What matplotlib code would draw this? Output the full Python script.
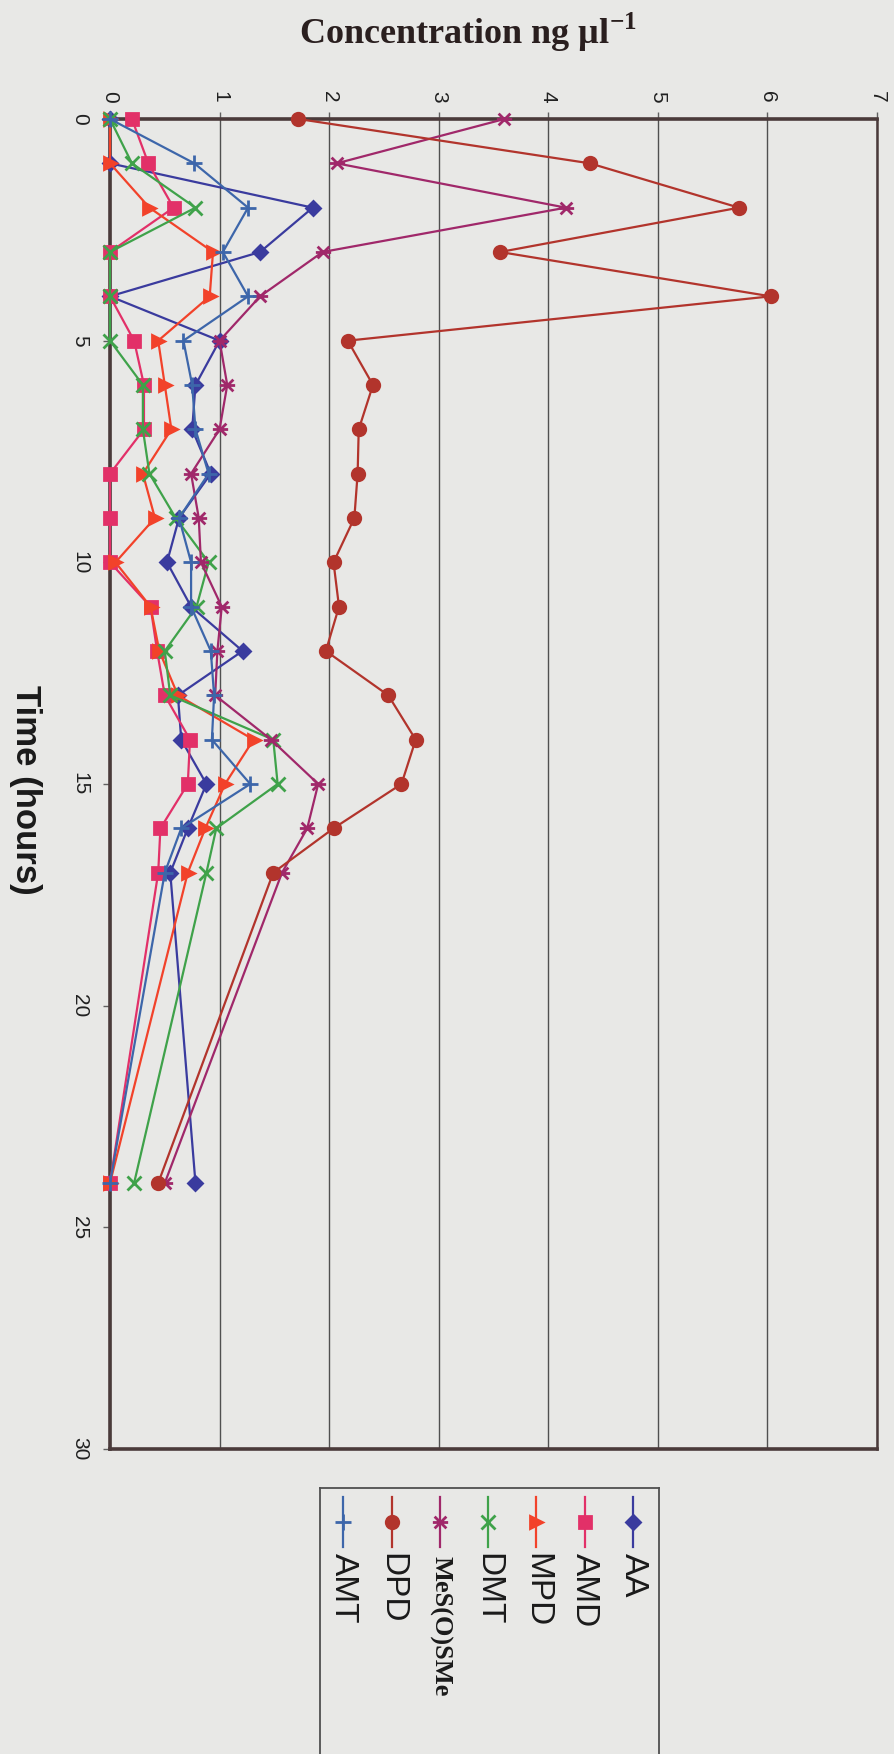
import numpy as np
import matplotlib.pyplot as plt
from matplotlib.path import Path

plt.rcParams["mathtext.fontset"] = "custom"
plt.rcParams["mathtext.bf"] = "Liberation Serif:bold"
plt.rcParams["mathtext.rm"] = "Liberation Serif:bold"

# sampling times (hours)
hours = [0, 1, 2, 3, 4, 5, 6, 7, 8, 9, 10, 11, 12, 13, 14, 15, 16, 17, 24]

# concentrations, ng/ul
aa = [0, 0, 1.85, 1.37, 0, 1.0, 0.78, 0.75, 0.92, 0.63, 0.52, 0.74, 1.21, 0.62, 0.65, 0.88, 0.71, 0.55, 0.78]
amd = [0.2, 0.35, 0.58, 0, 0, 0.22, 0.31, 0.31, 0, 0, 0, 0.37, 0.43, 0.5, 0.73, 0.71, 0.46, 0.44, 0]
mpd = [0, 0, 0.36, 0.94, 0.91, 0.44, 0.5, 0.56, 0.3, 0.41, 0.05, 0.37, 0.45, 0.62, 1.31, 1.05, 0.87, 0.71, 0]
dmt = [0, 0.2, 0.78, 0, 0, 0, 0.3, 0.3, 0.36, 0.6, 0.9, 0.79, 0.5, 0.55, 1.49, 1.53, 0.97, 0.88, 0.22]
mes = [3.6, 2.07, 4.16, 1.94, 1.37, 1.0, 1.07, 1.0, 0.74, 0.81, 0.83, 1.02, 0.98, 0.96, 1.47, 1.9, 1.8, 1.57, 0.5]
dpd = [1.72, 4.38, 5.74, 3.56, 6.03, 2.17, 2.4, 2.27, 2.26, 2.23, 2.04, 2.09, 1.97, 2.54, 2.79, 2.66, 2.04, 1.49, 0.44]
amt = [0, 0.77, 1.26, 1.03, 1.26, 0.67, 0.75, 0.78, 0.9, 0.63, 0.74, 0.74, 0.92, 0.95, 0.93, 1.28, 0.65, 0.5, 0]

names = ["AA", "AMD", "MPD", "DMT", "MeS(O)SMe", "DPD", "AMT"]
series = [aa, amd, mpd, dmt, mes, dpd, amt]

conc_ticks = [0, 1, 2, 3, 4, 5, 6, 7]
time_ticks = [0, 5, 10, 15, 20, 25, 30]

# asterisk turned on its side (x with a horizontal bar)
star = Path([(-1, -1), (1, 1), (-1, 1), (1, -1), (-1.3, 0), (1.3, 0)],
            [Path.MOVETO, Path.LINETO, Path.MOVETO, Path.LINETO, Path.MOVETO, Path.LINETO])

colors = ["#3a3b9e", "#e23068", "#f2422a", "#3fa24a", "#a0286a", "#b2342c", "#3d66aa"]
markers = ["D", "s", ">", "x", star, "o", "+"]
msizes = [7, 9, 9, 10, 11, 9, 12]

bg = "#e8e8e6"
dark = "#4a3a3a"

fig = plt.figure(figsize=(8.94, 17.54), dpi=100, facecolor=bg)
W, H = 894, 1754

# main plot, drawn already turned a quarter turn (time runs down)
left, right, top, bottom = 110, 877, 119, 1449
ax = fig.add_axes([left / W, 1 - bottom / H, (right - left) / W, (bottom - top) / H])
ax.set_facecolor(bg)

for vals, c, m, ms in zip(series, colors, markers, msizes):
    ax.plot(vals, hours, color=c, lw=1.6, marker=m, markersize=ms,
            markerfacecolor=c, markeredgecolor=c, markeredgewidth=2, clip_on=False, zorder=3)

ax.set_xlim(0, 7)
ax.set_ylim(30, 0)
ax.set_xticks(conc_ticks)
ax.set_yticks(time_ticks)
ax.xaxis.tick_top()
ax.grid(axis="x", color="#505050", lw=1.0)
ax.set_axisbelow(True)

for side in ["top", "left", "bottom"]:
    ax.spines[side].set_linewidth(2.6)
    ax.spines[side].set_color(dark)
ax.spines["right"].set_linewidth(1.8)
ax.spines["right"].set_color(dark)

ax.tick_params(axis="x", length=5, width=1, color="#606060", pad=7,
               labelsize=15, labelrotation=-90)
ax.tick_params(axis="y", length=5, width=1, color="#606060", pad=10,
               labelsize=15, labelrotation=-90)
for lab in ax.get_xticklabels() + ax.get_yticklabels():
    lab.set_fontfamily("Liberation Sans")
    lab.set_color("#202020")
for lab in ax.get_yticklabels():
    lab.set_verticalalignment("center")

# axis titles
fig.text(468 / W, 1 - 32 / H, r"Concentration ng µl$^{\mathbf{-1}}$",
         ha="center", va="center", fontsize=26, fontweight="bold",
         family="Liberation Serif", color="#2a1f1f")

fig.text(25 / W, 1 - 790 / H, "Time (hours)", rotation=-90, ha="center", va="center",
         fontsize=25, fontweight="bold", family="Liberation Sans", color="#1a1a1a")

# legend, also turned (runs off the bottom of the page)
lx0, lx1, ly0 = 320, 659, 1488
lax = fig.add_axes([lx0 / W, -10 / H, (lx1 - lx0) / W, (H + 10 - ly0) / H])
lax.set_facecolor(bg)
lax.set_xlim(lx0, lx1)
lax.set_ylim(H + 10, ly0)
lax.set_xticks([])
lax.set_yticks([])
for side in lax.spines:
    lax.spines[side].set_color("#505050")
    lax.spines[side].set_linewidth(1.3)
lax.spines["bottom"].set_visible(False)

col0, step = 633, 48.3
for i, (name, c, m, ms) in enumerate(zip(names, colors, markers, msizes)):
    x = col0 - i * step
    lax.plot([x, x, x], [1497, 1522, 1547], color=c, lw=1.6, marker=m, markersize=ms,
             markevery=[1], markerfacecolor=c, markeredgecolor=c, markeredgewidth=2)
    if name == "MeS(O)SMe":
        lax.text(x, 1556, name, rotation=-90, ha="center", va="top", fontsize=19,
                 fontweight="bold", family="Liberation Serif", color="#1a1a1a")
    else:
        lax.text(x, 1553, name, rotation=-90, ha="center", va="top", fontsize=24,
                 family="Liberation Sans", color="#1a1a1a")

fig.savefig("out.png", dpi=100, facecolor=bg)
